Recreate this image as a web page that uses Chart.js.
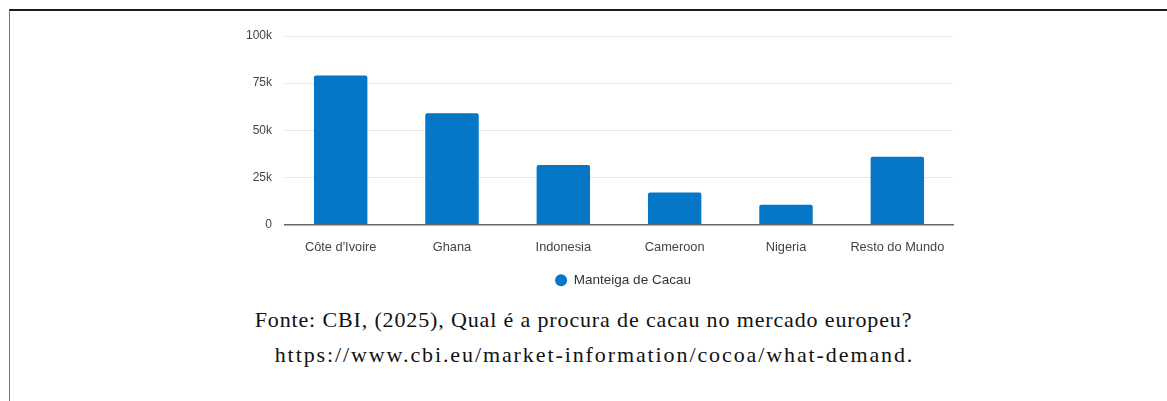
<!DOCTYPE html>
<html>
<head>
<meta charset="utf-8">
<script src="https://cdn.jsdelivr.net/npm/chart.js@4"></script>
<style>
  html, body { margin: 0; padding: 0; background: #fff; }
  body { width: 1167px; height: 401px; position: relative; overflow: hidden; }
  .moldura {
    position: absolute; left: 9px; top: 9px; right: 0; bottom: -5px;
    border-top: 2px solid #1a1a1a; border-left: 1px solid #777;
  }
  #grafico-wrap { position: absolute; left: 0; top: 0; width: 1167px; height: 300px; }
  .fonte {
    position: absolute; width: 1167px; text-align: center;
    font-family: "Liberation Serif", "Times New Roman", serif;
    font-size: 22px; color: #111; line-height: 33px;
  }
  .l1 { left: 0; top: 303px; letter-spacing: 0.86px; }
  .l2 { left: 11px; top: 338px; letter-spacing: 1.9px; }
</style>
</head>
<body>
<div class="moldura"></div>
<div id="grafico-wrap"><canvas id="grafico-manteiga"></canvas></div>
<div class="fonte l1">Fonte: CBI, (2025), Qual é a procura de cacau no mercado europeu?</div>
<div class="fonte l2">https://www.cbi.eu/market-information/cocoa/what-demand.</div>
<script>
// Exportação de manteiga de cacau por país
const paises = ["Côte d'Ivoire", 'Ghana', 'Indonesia', 'Cameroon', 'Nigeria', 'Resto do Mundo'];
const valoresManteiga = [79000, 59000, 31500, 17000, 10500, 36000];
const ticksY = [0, 25000, 50000, 75000, 100000];
const nomeSerie = 'Manteiga de Cacau';

function formatarK(v) {
    return v === 0 ? '0' : (v / 1000) + 'k';
}

// Centraliza a legenda sob a área do gráfico (e não sob o canvas inteiro)
const legendaNaArea = {
    id: 'legendaNaArea',
    afterLayout(chart) {
        const lg = chart.legend;
        if (!lg) return;
        const desloc = (chart.chartArea.left + chart.chartArea.right) / 2 + 4 - (lg.left + lg.right) / 2;
        lg.left += desloc;
        lg.right += desloc;
    }
};

const ctx = document.getElementById('grafico-manteiga').getContext('2d');
new Chart(ctx, {
    type: 'bar',
    data: {
        labels: paises,
        datasets: [{
            label: nomeSerie,
            data: valoresManteiga,
            backgroundColor: '#0676c6',
            borderRadius: 2,
            borderSkipped: 'bottom',
            categoryPercentage: 1,
            barPercentage: 0.48
        }]
    },
    options: {
        responsive: true,
        maintainAspectRatio: false,
        animation: false,
        layout: { padding: { left: 235, right: 214, top: 36, bottom: 3 } },
        plugins: {
            legend: {
                position: 'bottom',
                labels: {
                    usePointStyle: true,
                    pointStyle: 'circle',
                    boxWidth: 12,
                    boxHeight: 8.5,
                    padding: 10,
                    color: '#333',
                    font: { family: 'Liberation Sans', size: 13.5 }
                }
            },
            tooltip: { enabled: false }
        },
        scales: {
            x: {
                grid: { display: false, drawTicks: false },
                border: { display: true, color: '#666', width: 1.5 },
                ticks: {
                    color: '#444',
                    padding: 15,
                    maxRotation: 0,
                    font: { family: 'Liberation Sans', size: 12.8 }
                },
                afterFit: s => { s.height = 39; }
            },
            y: {
                min: 0,
                max: 100000,
                afterBuildTicks: s => { s.ticks = ticksY.map(v => ({ value: v })); },
                grid: { color: '#e6e6e6', drawTicks: false },
                border: { display: false },
                ticks: {
                    color: '#444',
                    padding: 13,
                    callback: v => formatarK(v),
                    font: { family: 'Liberation Sans', size: 12 }
                },
                afterFit: s => { s.width = 50; }
            }
        }
    },
    plugins: [legendaNaArea]
});
</script>
</body>
</html>
